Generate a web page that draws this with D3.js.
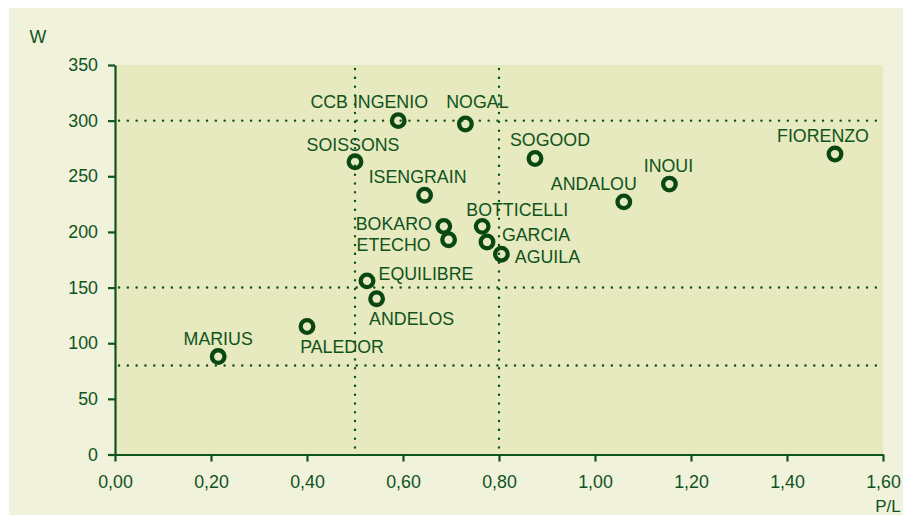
<!DOCTYPE html>
<html>
<head>
<meta charset="utf-8">
<script src="https://cdn.jsdelivr.net/npm/d3@7"></script>
<style>
  body { margin: 0; background: #ffffff; }
  svg { display: block; font-family: "Liberation Sans", Arial, sans-serif; }
</style>
</head>
<body>
<div class="container"></div>
<script>
// data
const names = ["MARIUS", "PALEDOR", "CCB INGENIO", "NOGAL", "SOISSONS", "ISENGRAIN", "SOGOOD",
  "BOKARO", "ETECHO", "BOTTICELLI", "GARCIA", "AGUILA", "EQUILIBRE", "ANDELOS",
  "ANDALOU", "INOUI", "FIORENZO"];
const plValues = [0.215, 0.40, 0.59, 0.73, 0.50, 0.645, 0.875,
  0.685, 0.695, 0.765, 0.775, 0.805, 0.525, 0.545,
  1.06, 1.155, 1.50];
const wValues = [88, 115, 300, 297, 263, 233, 266,
  205, 193, 205, 191, 180, 156, 140,
  227, 243, 270];
const xTicks = [0, 0.2, 0.4, 0.6, 0.8, 1.0, 1.2, 1.4, 1.6];
const yTicks = [0, 50, 100, 150, 200, 250, 300, 350];
const wRefs = [300, 150, 80];
const plRefs = [0.5, 0.8];

// where each label sits relative to its point
const labelOffset = {
  "MARIUS": [0, -18], "PALEDOR": [35, 20], "CCB INGENIO": [-29, -19], "NOGAL": [12, -22],
  "SOISSONS": [-2, -17], "ISENGRAIN": [-7, -19], "SOGOOD": [15, -19], "BOKARO": [-50, -3],
  "ETECHO": [-55, 5], "BOTTICELLI": [35, -17], "GARCIA": [49, -7], "AGUILA": [46, 2],
  "EQUILIBRE": [59, -7], "ANDELOS": [35, 20], "ANDALOU": [-30, -18], "INOUI": [-1, -18],
  "FIORENZO": [-12, -18]
};

const size = { width: 903, height: 515 };
const green = "#0f531d";
const ring = "#0a4813";

const svg = d3.select(".container")
  .append("svg")
  .attr("width", size.width)
  .attr("height", size.height);

svg.append("rect")
  .attr("x", 9).attr("y", 8)
  .attr("width", size.width - 9).attr("height", size.height - 8)
  .attr("fill", "#f1f2dc");

const x = d3.scaleLinear().domain([0, 1.6]).range([115, 883]);
const y = d3.scaleLinear().domain([0, 350]).range([454.5, 65]);

svg.append("rect")
  .attr("x", x(0)).attr("y", y(350))
  .attr("width", x(1.6) - x(0)).attr("height", y(0) - y(350))
  .attr("fill", "#e7e9be");

// dotted reference lines
const refs = svg.append("g")
  .attr("stroke", green)
  .attr("stroke-width", 2.4)
  .attr("stroke-linecap", "round")
  .attr("stroke-dasharray", "0.1 8.7");

refs.selectAll(".h")
  .data(wRefs)
  .enter()
  .append("line")
  .attr("x1", x(0) + 4).attr("x2", x(1.6))
  .attr("y1", d => y(d)).attr("y2", d => y(d));

refs.selectAll(".v")
  .data(plRefs)
  .enter()
  .append("line")
  .attr("x1", d => x(d)).attr("x2", d => x(d))
  .attr("y1", y(350) + 4).attr("y2", y(0));

const fmt = d => d3.format(".2f")(d).replace(".", ",");

const xAxis = svg.append("g")
  .attr("transform", `translate(0,${y(0)})`)
  .call(d3.axisBottom(x).tickValues(xTicks).tickFormat(fmt).tickSize(7).tickSizeOuter(0).tickPadding(14));

const yAxis = svg.append("g")
  .attr("transform", `translate(${x(0)},0)`)
  .call(d3.axisLeft(y).tickValues(yTicks).tickSize(7).tickSizeOuter(0).tickPadding(10));

[xAxis, yAxis].forEach(a => {
  a.select(".domain").attr("stroke", green).attr("stroke-width", 2.2);
  a.selectAll(".tick line").attr("stroke", green).attr("stroke-width", 2.2);
  a.selectAll(".tick text").attr("fill", green).attr("font-size", 17.8)
    .attr("font-family", "'Liberation Sans', Arial, sans-serif");
});

svg.append("text")
  .attr("x", 38).attr("y", 43)
  .attr("text-anchor", "middle")
  .attr("fill", green).attr("font-size", 17.8)
  .text("W");

svg.append("text")
  .attr("x", 888).attr("y", 512)
  .attr("text-anchor", "middle")
  .attr("fill", green).attr("font-size", 17)
  .text("P/L");

const datos = names.map((n, i) => ({ name: n, pl: plValues[i], w: wValues[i] }));

svg.selectAll(".lbl")
  .data(datos)
  .enter()
  .append("text")
  .attr("x", d => x(d.pl) + labelOffset[d.name][0])
  .attr("y", d => y(d.w) + labelOffset[d.name][1])
  .attr("dy", "0.36em")
  .attr("text-anchor", "middle")
  .attr("fill", green)
  .attr("font-size", 17.8)
  .text(d => d.name);

svg.selectAll(".pt")
  .data(datos)
  .enter()
  .append("circle")
  .attr("cx", d => x(d.pl))
  .attr("cy", d => y(d.w))
  .attr("r", 6.3)
  .attr("fill", "none")
  .attr("stroke", ring)
  .attr("stroke-width", 4.3);
</script>
</body>
</html>
